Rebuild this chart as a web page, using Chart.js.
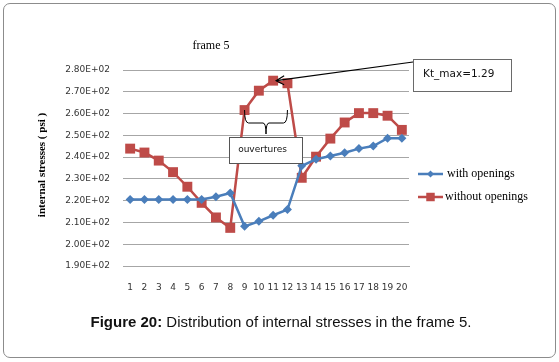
<!DOCTYPE html>
<html>
<head>
<meta charset="utf-8">
<script src="https://cdn.jsdelivr.net/npm/chart.js@4"></script>
<style>
  body { margin: 0; background: #fff; }
  #wrap { position: relative; width: 559px; height: 362px; }
  #frame { position: absolute; left: 3px; top: 3px; width: 551px; height: 353px;
           border: 1px solid #8c8c8c; border-radius: 7px; }
  #caption { position: absolute; left: 0; width: 562px; top: 313px; text-align: center;
             font-family: "Liberation Sans", Arial, sans-serif; font-size: 15px; color: #111; }
  canvas { position: absolute; left: 0; top: 0; }
</style>
</head>
<body>
<div id="wrap">
  <div id="frame"></div>
  <canvas id="frameChart" width="559" height="362"></canvas>
  <div id="caption"><b>Figure 20:</b> Distribution of internal stresses in the frame 5.</div>
</div>
<script>
// frame 5 internal stresses

const positions = ['1', '2', '3', '4', '5', '6', '7', '8', '9', '10',
                   '11', '12', '13', '14', '15', '16', '17', '18', '19', '20']
const withOpenings = [220.5, 220.5, 220.5, 220.5, 220.5, 220.5, 221.8, 223.5, 208.2, 210.5,
                      213.3, 215.9, 236, 239, 240.5, 242, 243.9, 245.1, 248.7, 248.7]
const withoutOpenings = [243.9, 242.1, 238.4, 233.1, 226.4, 219, 212.3, 207.5, 261.6, 270.5,
                         275.1, 273.9, 230.5, 240.2, 248.5, 255.9, 260.2, 260.2, 259, 252.5]
const seriesNames = ['with openings', 'without openings']
const yTicks = [190, 200, 210, 220, 230, 240, 250, 260, 270, 280]

const blue = '#4A7EBB'
const red = '#BE4B48'

const formatSci = (v) => (v / 100).toFixed(2) + 'E+02'

// extra drawing: title, axis title, legend, notes
const decorations = {
    id: 'decorations',
    afterDraw(chart) {
        const ctx = chart.ctx
        const x = chart.scales.x
        const y = chart.scales.y
        ctx.save()

        ctx.fillStyle = '#000'
        ctx.textAlign = 'center'
        ctx.textBaseline = 'middle'
        ctx.font = '12px "Liberation Serif", serif'
        ctx.fillText('frame 5', 211, 46)

        // axis title
        ctx.save()
        ctx.translate(42, 165)
        ctx.rotate(-Math.PI / 2)
        ctx.font = 'bold 11px "Liberation Serif", serif'
        ctx.fillText('internal stresses ( psi )', 0, 0)
        ctx.restore()

        // legend
        const ds = chart.data.datasets
        const rows = [174, 197]
        for (let i = 0; i < ds.length; i++) {
            const ly = rows[i]
            ctx.strokeStyle = ds[i].borderColor
            ctx.lineWidth = 2.5
            ctx.beginPath()
            ctx.moveTo(418, ly)
            ctx.lineTo(443, ly)
            ctx.stroke()
            ctx.fillStyle = ds[i].backgroundColor
            Chart.helpers.drawPoint(ctx, {
                pointStyle: ds[i].pointStyle,
                radius: i === 0 ? 3.5 : 6,
                borderWidth: 0
            }, 430.5, ly)
            ctx.fillStyle = '#000'
            ctx.textAlign = 'left'
            ctx.font = '12px "Liberation Serif", serif'
            ctx.fillText(ds[i].label, i === 0 ? 447 : 445, ly)
        }

        // Kt_max note with arrow to the peak
        const peakX = x.getPixelForValue(10)
        const peakY = y.getPixelForValue(withoutOpenings[10])
        ctx.strokeStyle = '#000'
        ctx.lineWidth = 1.2
        ctx.beginPath()
        ctx.moveTo(413, 62)
        ctx.lineTo(peakX + 3, peakY)
        ctx.stroke()
        ctx.beginPath()
        ctx.moveTo(peakX + 11, peakY - 5)
        ctx.lineTo(peakX + 3, peakY)
        ctx.lineTo(peakX + 11, peakY + 4)
        ctx.stroke()

        ctx.fillStyle = '#fff'
        ctx.fillRect(413, 59, 98, 32)
        ctx.strokeStyle = '#6a6a6a'
        ctx.lineWidth = 1
        ctx.strokeRect(413.5, 59.5, 98, 32)
        ctx.fillStyle = '#111'
        ctx.font = '10.5px "DejaVu Sans", sans-serif'
        ctx.textAlign = 'left'
        ctx.fillText('Kt_max=1.29', 423, 74)

        // brace over the openings, points 9..12
        const bx1 = x.getPixelForValue(8)
        const bx2 = x.getPixelForValue(11)
        const mid = (bx1 + bx2) / 2
        ctx.strokeStyle = '#000'
        ctx.lineWidth = 1
        ctx.beginPath()
        ctx.moveTo(bx1, 110)
        ctx.quadraticCurveTo(bx1, 123, bx1 + 4, 123)
        ctx.lineTo(mid - 3, 123)
        ctx.quadraticCurveTo(mid, 123, mid, 134)
        ctx.quadraticCurveTo(mid, 123, mid + 3, 123)
        ctx.lineTo(bx2 - 4, 123)
        ctx.quadraticCurveTo(bx2, 123, bx2, 110)
        ctx.stroke()

        ctx.fillStyle = '#fff'
        ctx.fillRect(229, 137, 73, 26)
        ctx.strokeStyle = '#555'
        ctx.strokeRect(229.5, 137.5, 73, 26)
        ctx.fillStyle = '#111'
        ctx.textAlign = 'center'
        ctx.font = '9px "DejaVu Sans", sans-serif'
        ctx.fillText('ouvertures', 262.5, 150)

        ctx.restore()
    }
}

const ctx = document.getElementById('frameChart')

new Chart(ctx, {
    type: 'line',
    data: {
        labels: positions,
        datasets: [
            {
                label: seriesNames[0],
                data: withOpenings,
                borderColor: blue,
                backgroundColor: blue,
                borderWidth: 2.5,
                pointStyle: 'rectRot',
                pointRadius: 4.5,
                pointBorderWidth: 0,
                tension: 0,
            },
            {
                label: seriesNames[1],
                data: withoutOpenings,
                borderColor: red,
                backgroundColor: red,
                borderWidth: 2.5,
                pointStyle: 'rect',
                pointRadius: 7,
                pointBorderWidth: 0,
                tension: 0,
            }
        ]
    },
    options: {
        responsive: false,
        animation: false,
        layout: { padding: { left: 0, right: 150, top: 70, bottom: 66 } },
        plugins: {
            legend: { display: false },
            tooltip: { enabled: false },
        },
        scales: {
            x: {
                offset: true,
                grid: { display: false, drawTicks: false },
                border: { display: true, color: '#a6a6a6', width: 1 },
                ticks: {
                    autoSkip: false,
                    maxRotation: 0,
                    padding: 16,
                    color: '#333',
                    font: { family: 'DejaVu Sans', size: 9 },
                },
                afterFit: (scale) => { scale.height = 30 },
            },
            y: {
                min: yTicks[0],
                max: yTicks[yTicks.length - 1],
                afterBuildTicks: (scale) => { scale.ticks = yTicks.map(v => ({ value: v })) },
                grid: { color: '#a6a6a6', drawTicks: false },
                border: { display: false },
                ticks: {
                    padding: 13,
                    color: '#333',
                    font: { family: 'DejaVu Sans', size: 9 },
                    callback: (v) => formatSci(v),
                },
                afterFit: (scale) => { scale.width = 123 },
            }
        }
    },
    plugins: [decorations]
})
</script>
</body>
</html>
